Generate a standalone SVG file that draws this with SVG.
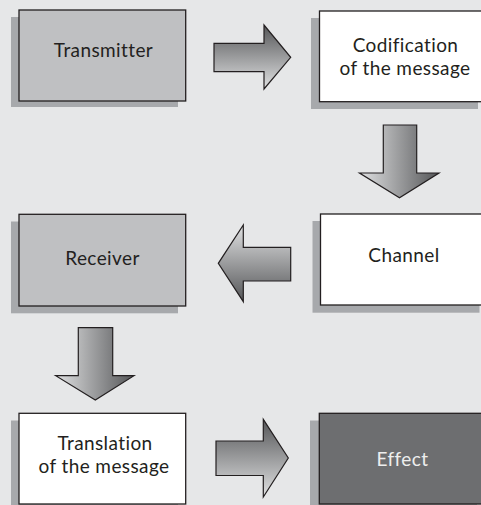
<svg xmlns="http://www.w3.org/2000/svg" width="481" height="505" viewBox="0 0 481 505">
<style>
.bg{fill:#e6e7e8}
.shadow{fill:#a7a9ac}
.box{stroke:#231f20;stroke-width:1.3}
.grey{fill:#bfc0c2}
.white{fill:#ffffff}
.dark{fill:#6d6e70}
.arrow{stroke:#231f20;stroke-width:1.2;stroke-linejoin:miter}
text{font-family:Lato,"Open Sans",sans-serif;font-size:19px;letter-spacing:0.4px;font-variant-ligatures:none;fill:#231f20;text-anchor:middle}
.light{fill:#eeeeee}
</style>
<defs>
<linearGradient id="gRight" x1="0" y1="0" x2="0" y2="1">
<stop offset="0" stop-color="#555658"/>
<stop offset="1" stop-color="#e0e1e2"/>
</linearGradient>
<linearGradient id="gLeft" x1="0" y1="1" x2="0" y2="0">
<stop offset="0" stop-color="#555658"/>
<stop offset="1" stop-color="#e0e1e2"/>
</linearGradient>
<linearGradient id="gDown" x1="1" y1="0" x2="0" y2="0">
<stop offset="0" stop-color="#555658"/>
<stop offset="1" stop-color="#e0e1e2"/>
</linearGradient>
</defs>
<rect class="bg" x="0" y="0" width="481" height="505"/>

<g id="transmitter">
<rect class="shadow" x="11" y="17" width="167" height="90"/>
<rect class="box grey" x="19" y="10" width="166.7" height="91"/>
<text x="103.5" y="56.7">Transmitter</text>
</g>

<g id="codification">
<rect class="shadow" x="311" y="18" width="167" height="91"/>
<rect class="box white" x="319.5" y="11" width="170" height="90.7"/>
<text><tspan x="405.5" y="51.8">Codification</tspan><tspan x="405" y="74.8">of the message</tspan></text>
</g>

<g id="channel">
<rect class="shadow" x="312.5" y="221" width="167" height="91.7"/>
<rect class="box white" x="320.5" y="214" width="170" height="91"/>
<text x="404" y="261.7">Channel</text>
</g>

<g id="receiver">
<rect class="shadow" x="11" y="221.5" width="167" height="91.8"/>
<rect class="box grey" x="19" y="214.3" width="166.7" height="91.7"/>
<text x="102.5" y="265">Receiver</text>
</g>

<g id="translation">
<rect class="shadow" x="11" y="420.5" width="167" height="90"/>
<rect class="box white" x="19" y="413.3" width="166.7" height="90.7"/>
<text><tspan x="105" y="450">Translation</tspan><tspan x="104" y="473">of the message</tspan></text>
</g>

<g id="effect">
<rect class="shadow" x="310" y="420.5" width="167" height="90"/>
<rect class="box dark" x="319.3" y="413.3" width="170" height="90.7"/>
<text class="light" x="402.5" y="465.7">Effect</text>
</g>

<g id="connectors">
<path class="arrow" fill="url(#gRight)" d="M214,43.3 H264 V25 L290.7,57.3 L264,89 V71.7 H214 Z"/>
<path class="arrow" fill="url(#gDown)" d="M383.3,125 V173 H359.5 L399.5,197.7 L439,173 H416.7 V125 Z"/>
<path class="arrow" fill="url(#gLeft)" d="M290.7,247.3 H243.3 V225 L218.3,263.3 L243.3,301.7 V281 H290.7 Z"/>
<path class="arrow" fill="url(#gDown)" d="M78.3,327.7 V375.7 H55.7 L95.3,400 L134,375.7 H112.7 V327.7 Z"/>
<path class="arrow" fill="url(#gRight)" d="M216,441 H263.3 V419.3 L288.3,458 L263.3,497 V475.5 H216 Z"/>
</g>
</svg>
